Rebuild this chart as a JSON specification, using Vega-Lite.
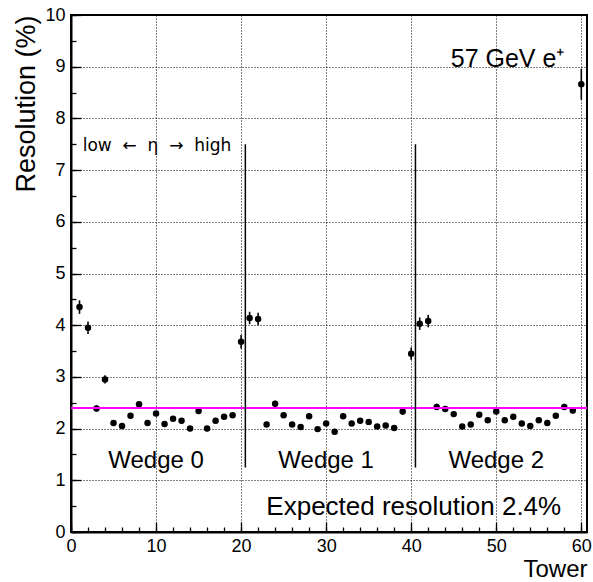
{
  "$schema": "https://vega.github.io/schema/vega-lite/v6.json",
  "width": 516,
  "height": 517,
  "autosize": {"type": "none"},
  "padding": {"left": 71, "top": 15, "right": 6, "bottom": 50},
  "background": "white",
  "config": {
    "font": "Liberation Sans",
    "view": {"stroke": "black", "strokeWidth": 2},
    "axis": {
      "domainColor": "black",
      "domainWidth": 2,
      "tickColor": "black",
      "tickWidth": 1.3,
      "labelColor": "black",
      "titleColor": "black",
      "labelFontSize": 18,
      "titleFontWeight": "normal",
      "gridColor": "#000000",
      "gridOpacity": 1,
      "gridDash": [1, 2],
      "gridWidth": 1,
      "labelOverlap": false,
      "labelFlush": false
    }
  },
  "resolve": {"axis": {"x": "independent", "y": "independent"}},
  "data": {
    "values": [
      {"Tower": 1, "res": 4.35, "err": 0.13},
      {"Tower": 2, "res": 3.95, "err": 0.12},
      {"Tower": 3, "res": 2.39, "err": 0.06},
      {"Tower": 4, "res": 2.95, "err": 0.08},
      {"Tower": 5, "res": 2.11, "err": 0.05},
      {"Tower": 6, "res": 2.05, "err": 0.05},
      {"Tower": 7, "res": 2.25, "err": 0.05},
      {"Tower": 8, "res": 2.47, "err": 0.06},
      {"Tower": 9, "res": 2.11, "err": 0.05},
      {"Tower": 10, "res": 2.29, "err": 0.05},
      {"Tower": 11, "res": 2.09, "err": 0.05},
      {"Tower": 12, "res": 2.19, "err": 0.05},
      {"Tower": 13, "res": 2.15, "err": 0.05},
      {"Tower": 14, "res": 2.0, "err": 0.05},
      {"Tower": 15, "res": 2.34, "err": 0.06},
      {"Tower": 16, "res": 2.0, "err": 0.05},
      {"Tower": 17, "res": 2.15, "err": 0.05},
      {"Tower": 18, "res": 2.23, "err": 0.05},
      {"Tower": 19, "res": 2.26, "err": 0.05},
      {"Tower": 20, "res": 3.68, "err": 0.13},
      {"Tower": 21, "res": 4.14, "err": 0.12},
      {"Tower": 22, "res": 4.12, "err": 0.12},
      {"Tower": 23, "res": 2.08, "err": 0.05},
      {"Tower": 24, "res": 2.48, "err": 0.06},
      {"Tower": 25, "res": 2.26, "err": 0.05},
      {"Tower": 26, "res": 2.08, "err": 0.05},
      {"Tower": 27, "res": 2.03, "err": 0.05},
      {"Tower": 28, "res": 2.24, "err": 0.05},
      {"Tower": 29, "res": 1.99, "err": 0.05},
      {"Tower": 30, "res": 2.1, "err": 0.05},
      {"Tower": 31, "res": 1.94, "err": 0.05},
      {"Tower": 32, "res": 2.24, "err": 0.05},
      {"Tower": 33, "res": 2.1, "err": 0.05},
      {"Tower": 34, "res": 2.15, "err": 0.05},
      {"Tower": 35, "res": 2.13, "err": 0.05},
      {"Tower": 36, "res": 2.04, "err": 0.05},
      {"Tower": 37, "res": 2.06, "err": 0.05},
      {"Tower": 38, "res": 2.01, "err": 0.05},
      {"Tower": 39, "res": 2.33, "err": 0.06},
      {"Tower": 40, "res": 3.45, "err": 0.12},
      {"Tower": 41, "res": 4.03, "err": 0.12},
      {"Tower": 42, "res": 4.08, "err": 0.12},
      {"Tower": 43, "res": 2.42, "err": 0.06},
      {"Tower": 44, "res": 2.38, "err": 0.06},
      {"Tower": 45, "res": 2.28, "err": 0.05},
      {"Tower": 46, "res": 2.04, "err": 0.05},
      {"Tower": 47, "res": 2.08, "err": 0.05},
      {"Tower": 48, "res": 2.27, "err": 0.05},
      {"Tower": 49, "res": 2.16, "err": 0.05},
      {"Tower": 50, "res": 2.33, "err": 0.05},
      {"Tower": 51, "res": 2.16, "err": 0.05},
      {"Tower": 52, "res": 2.23, "err": 0.05},
      {"Tower": 53, "res": 2.1, "err": 0.05},
      {"Tower": 54, "res": 2.05, "err": 0.05},
      {"Tower": 55, "res": 2.16, "err": 0.05},
      {"Tower": 56, "res": 2.11, "err": 0.05},
      {"Tower": 57, "res": 2.25, "err": 0.05},
      {"Tower": 58, "res": 2.42, "err": 0.06},
      {"Tower": 59, "res": 2.35, "err": 0.06},
      {"Tower": 60, "res": 8.66, "err": 0.3}
    ]
  },
  "layer": [
    {
      "mark": {"type": "errorbar", "ticks": false, "rule": {"color": "black", "strokeWidth": 1.6}},
      "encoding": {
        "x": {
          "field": "Tower", "type": "quantitative",
          "scale": {"domain": [0, 60.67], "nice": false, "zero": false},
          "axis": {
            "orient": "bottom",
            "title": null,
            "values": [0,2,4,6,8,10,12,14,16,18,20,22,24,26,28,30,32,34,36,38,40,42,44,46,48,50,52,54,56,58,60],
            "labels": false,
            "grid": false,
            "domain": false,
            "ticks": true,
            "tickSize": -5
          }
        },
        "y": {
          "field": "res", "type": "quantitative",
          "scale": {"domain": [0, 10], "nice": false},
          "axis": {
            "orient": "left",
            "title": null,
            "values": [0,0.5,1,1.5,2,2.5,3,3.5,4,4.5,5,5.5,6,6.5,7,7.5,8,8.5,9,9.5,10],
            "labels": false,
            "grid": false,
            "domain": false,
            "ticks": true,
            "tickSize": -5
          }
        },
        "yError": {"field": "err"}
      }
    },
    {
      "mark": {"type": "point", "filled": true, "size": 42, "color": "black", "opacity": 1},
      "encoding": {
        "x": {
          "field": "Tower", "type": "quantitative",
          "axis": {
            "orient": "bottom",
            "title": "Tower",
            "titleFontSize": 24,
            "titleAnchor": "end",
            "titlePadding": 2,
            "values": [0,10,20,30,40,50,60],
            "tickSize": -10,
            "grid": true,
            "labelPadding": 15
          }
        },
        "y": {
          "field": "res", "type": "quantitative",
          "axis": {
            "orient": "left",
            "title": "Resolution (%)",
            "titleFontSize": 27,
            "titleAnchor": "end",
            "titlePadding": 4,
            "values": [0,1,2,3,4,5,6,7,8,9,10],
            "tickSize": -10,
            "grid": true,
            "labelPadding": 16
          }
        }
      }
    },
    {
      "data": {"values": [{"expected": 2.4}]},
      "mark": {"type": "rule", "color": "#ff00ff", "strokeWidth": 2},
      "encoding": {"y": {"field": "expected", "type": "quantitative", "axis": null}}
    },
    {
      "data": {"values": [{"divider": 20.5}, {"divider": 40.5}]},
      "mark": {"type": "rule", "color": "black", "strokeWidth": 1.5},
      "encoding": {
        "x": {"field": "divider", "type": "quantitative", "axis": null},
        "y": {"datum": 1.25, "axis": null},
        "y2": {"datum": 7.5}
      }
    },
    {
      "data": {"values": [{"label": "Wedge 0", "cx": 10}, {"label": "Wedge 1", "cx": 30}, {"label": "Wedge 2", "cx": 50}]},
      "mark": {"type": "text", "fontSize": 24, "align": "center", "baseline": "alphabetic", "color": "black"},
      "encoding": {
        "x": {"field": "cx", "type": "quantitative", "axis": null},
        "y": {"datum": 1.24, "axis": null},
        "text": {"field": "label"}
      }
    },
    {
      "data": {"values": [{"note": "Expected resolution 2.4%"}]},
      "mark": {"type": "text", "fontSize": 26, "align": "center", "baseline": "alphabetic", "color": "black"},
      "encoding": {"x": {"datum": 40.3, "axis": null}, "y": {"datum": 0.33, "axis": null}, "text": {"field": "note"}}
    },
    {
      "data": {"values": [{"note": "57 GeV e⁺"}]},
      "mark": {"type": "text", "fontSize": 25, "align": "left", "baseline": "alphabetic", "color": "black"},
      "encoding": {"x": {"datum": 44.65, "axis": null}, "y": {"datum": 9.0, "axis": null}, "text": {"field": "note"}}
    },
    {
      "data": {"values": [{"note": "low\u00a0 ←\u00a0 η\u00a0 →\u00a0 high"}]},
      "mark": {"type": "text", "font": "DejaVu Sans", "fontSize": 17, "align": "left", "baseline": "alphabetic", "color": "black"},
      "encoding": {"x": {"datum": 1.38, "axis": null}, "y": {"datum": 7.375, "axis": null}, "text": {"field": "note"}}
    }
  ]
}
